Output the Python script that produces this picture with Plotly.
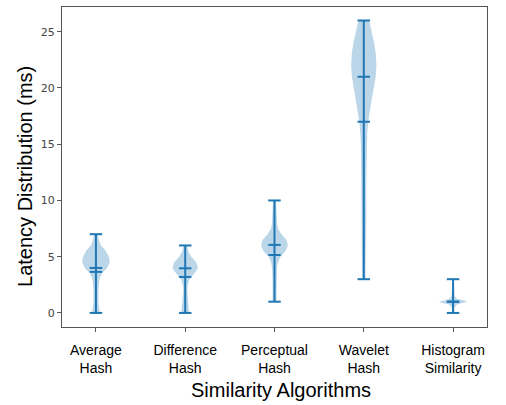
import plotly.graph_objects as go

# ---- data ----
categories = ["Average<br>Hash", "Difference<br>Hash", "Perceptual<br>Hash", "Wavelet<br>Hash", "Histogram<br>Similarity"]

# density profiles (relative half-width, 1.0 = widest) at latency levels (ms)
avg_y = [0, 0.5, 1, 2, 3, 3.5, 4, 4.5, 5, 5.5, 6, 6.5, 7]
avg_d = [0.28, 0.25, 0.18, 0.18, 0.25, 0.43, 0.8, 1.0, 0.93, 0.72, 0.36, 0.21, 0.14]

diff_y = [0, 0.5, 1, 2, 2.5, 3, 3.5, 4, 4.5, 5, 5.5, 6]
diff_d = [0.28, 0.25, 0.21, 0.14, 0.18, 0.3, 0.65, 0.93, 0.8, 0.43, 0.21, 0.14]

perc_y = [1, 2, 3, 4, 4.5, 5, 5.5, 6, 6.5, 7, 7.5, 8, 9, 10]
perc_d = [0.14, 0.14, 0.14, 0.18, 0.25, 0.43, 0.8, 0.97, 0.86, 0.5, 0.25, 0.18, 0.14, 0.11]

wave_y = [3, 5, 8, 12, 15, 16, 17, 18, 19, 20, 21, 22, 23, 24, 25, 26]
wave_d = [0.11, 0.14, 0.18, 0.18, 0.21, 0.25, 0.32, 0.43, 0.57, 0.72, 0.86, 0.91, 0.87, 0.75, 0.57, 0.39]

hist_y = [0, 0.5, 0.75, 0.9, 1.0, 1.1, 1.25, 1.5, 2, 3]
hist_d = [0.07, 0.11, 0.29, 0.86, 1.0, 0.86, 0.29, 0.11, 0.07, 0.04]

mins = [0, 0, 1, 3, 0]
maxs = [7, 6, 10, 26, 3]
means = [3.65, 3.2, 5.15, 17, 1.0]
medians = [4.0, 3.97, 6.05, 21, 1.0]

profiles = [(avg_y, avg_d), (diff_y, diff_d), (perc_y, perc_d), (wave_y, wave_d), (hist_y, hist_d)]

# ---- styling ----
C0 = "#1f77b4"
FILL = "rgba(31,119,180,0.3)"
HALF = 0.155   # half-width in x units for density 1.0
CAP = 0.07     # half-length of caps / stat lines

fig = go.Figure()
positions = list(range(1, len(categories) + 1))

for pos, (ys, ds) in zip(positions, profiles):
    xs = [pos + d * HALF for d in ds] + [pos - d * HALF for d in reversed(ds)]
    yy = list(ys) + list(reversed(ys))
    fig.add_trace(go.Scatter(x=xs, y=yy, fill="toself", fillcolor=FILL,
                             line=dict(width=0, color=FILL), mode="lines",
                             hoverinfo="skip", showlegend=False))

lx, ly = [], []
for pos, lo, hi, mn, md in zip(positions, mins, maxs, means, medians):
    lx += [pos, pos, None]
    ly += [lo, hi, None]
    for v in (lo, hi, mn, md):
        lx += [pos - CAP, pos + CAP, None]
        ly += [v, v, None]
fig.add_trace(go.Scatter(x=lx, y=ly, mode="lines", line=dict(color=C0, width=2),
                         hoverinfo="skip", showlegend=False))

axis_common = dict(showline=True, linecolor="#555", linewidth=1, mirror=True,
                   ticks="outside", ticklen=4, tickcolor="#555", showgrid=False,
                   zeroline=False)

fig.update_layout(
    width=506, height=405,
    margin=dict(l=62, r=19, t=7, b=78),
    paper_bgcolor="white", plot_bgcolor="white",
    xaxis=dict(range=[0.62, 5.38], tickvals=positions, ticktext=categories,
               tickfont=dict(family="Liberation Sans", size=14, color="black"),
               ticklabelstandoff=6, **axis_common),
    yaxis=dict(range=[-1.25, 27.2], tickvals=[0, 5, 10, 15, 20, 25],
               tickfont=dict(family="DejaVu Sans", size=11, color="#444"),
               **axis_common),
    annotations=[
        dict(text="Latency Distribution (ms)", xref="paper", yref="paper",
             x=-0.087, y=0.469, xanchor="center", yanchor="middle", textangle=-90,
             showarrow=False, font=dict(family="Liberation Sans", size=20, color="black")),
        dict(text="Similarity Algorithms", xref="paper", yref="paper",
             x=0.515, y=-0.197, xanchor="center", yanchor="middle",
             showarrow=False, font=dict(family="Liberation Sans", size=20, color="black")),
    ],
)

fig.write_html("out.html")
